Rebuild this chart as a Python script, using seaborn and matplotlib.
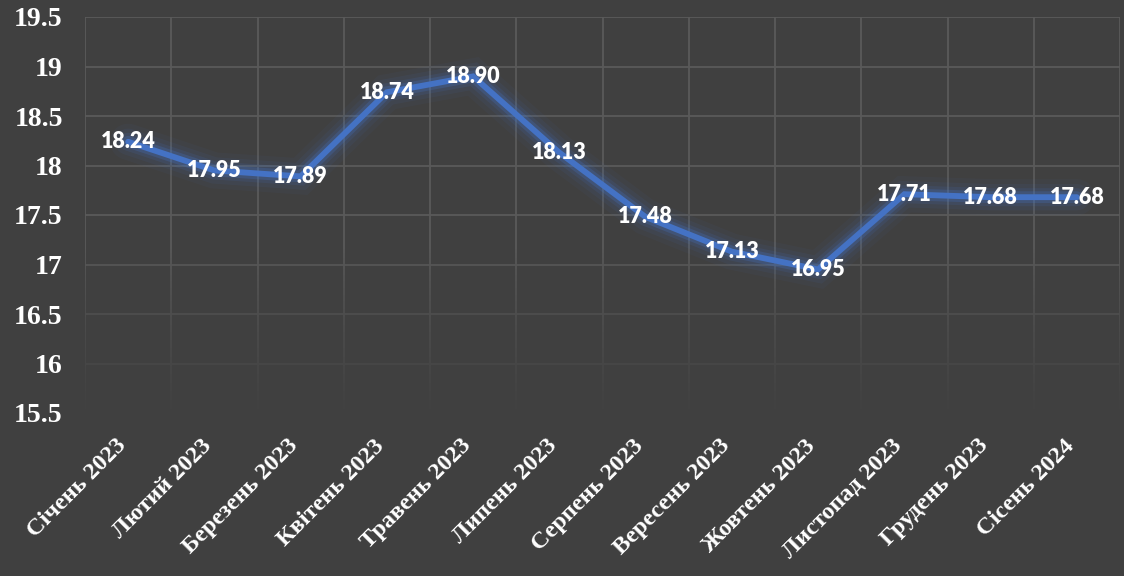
import numpy as np
import pandas as pd
import matplotlib
matplotlib.use("Agg")
import matplotlib.pyplot as plt
import matplotlib.patheffects as pe
import matplotlib.transforms as mtrans
from matplotlib.colors import LinearSegmentedColormap
import seaborn as sns

months = ["Січень 2023", "Лютий 2023", "Березень 2023", "Квітень 2023",
          "Травень 2023", "Липень 2023", "Серпень 2023", "Вересень 2023",
          "Жовтень 2023", "Листопад 2023", "Грудень 2023", "Сісень 2024"]
values = [18.24, 17.95, 17.89, 18.74, 18.90, 18.13, 17.48, 17.13, 16.95, 17.71, 17.68, 17.68]
y_ticks = [15.5, 16, 16.5, 17, 17.5, 18, 18.5, 19, 19.5]
y_tick_labels = ["15.5", "16", "16.5", "17", "17.5", "18", "18.5", "19", "19.5"]

BG = "#404040"
GRID = "#5a5a5a"
LINE = "#4472C4"

sns.set_style("dark")
plt.rcParams['font.family'] = ['Liberation Serif', 'DejaVu Serif']

df = pd.DataFrame({"month": months, "value": values, "x": np.arange(len(months))})

fig = plt.figure(figsize=(11.24, 5.76), dpi=100, facecolor=BG)
ax = fig.add_axes([85/1124, 1 - 413/576, (1120 - 85)/1124, (413 - 17)/576])
ax.set_facecolor(BG)

glow = [pe.Stroke(linewidth=26, foreground=LINE, alpha=0.05),
        pe.Stroke(linewidth=19, foreground=LINE, alpha=0.08),
        pe.Stroke(linewidth=13, foreground=LINE, alpha=0.13),
        pe.Stroke(linewidth=8.5, foreground=LINE, alpha=0.25),
        pe.Normal()]
sns.lineplot(data=df, x="x", y="value", ax=ax, color=LINE, linewidth=4.2,
             solid_joinstyle="miter", zorder=5, path_effects=glow)

for xi, v in zip(df["x"], df["value"]):
    ax.text(xi, v, f"{v:.2f}", ha="center", va="center", color="white",
            fontsize=15.5, fontweight="heavy", family=["Lato", "DejaVu Sans"], zorder=6)

ax.set_xlim(-0.5, len(months) - 0.5)
ax.set_ylim(15.5, 19.5)
ax.set_yticks(y_ticks)
ax.set_yticklabels(y_tick_labels)
ax.set_xticks(np.arange(len(months)))
ax.set_xticklabels(months, rotation=45, ha="right", va="top", rotation_mode="anchor")
ax.set_xticks(np.arange(len(months) + 1) - 0.5, minor=True)
ax.tick_params(axis="y", labelsize=20, colors="white", length=0, pad=16)
ax.tick_params(axis="x", which="major", labelsize=17.5, colors="white", length=0, pad=16)
ax.tick_params(axis="x", which="minor", length=0)
shift = mtrans.ScaledTranslation(-0.13, 0, fig.dpi_scale_trans)
for lab in ax.get_xticklabels():
    lab.set_transform(lab.get_transform() + shift)
for lab in ax.get_xticklabels() + ax.get_yticklabels():
    lab.set_fontweight("bold")
    lab.set_family(["Liberation Serif", "DejaVu Serif"])
    lab.set_color("white")

ax.grid(False)
ax.grid(True, axis="y", which="major", color=GRID, linewidth=1.3, zorder=1)
ax.grid(True, axis="x", which="minor", color=GRID, linewidth=1.3, zorder=1)
ax.set_axisbelow(True)
for s in ax.spines.values():
    s.set_visible(False)
ax.set_xlabel("")
ax.set_ylabel("")

# fade the grid toward the bottom
grad = np.linspace(1, 0, 256).reshape(-1, 1) ** 0.8
cmap = LinearSegmentedColormap.from_list("fade", [(0.251, 0.251, 0.251, 0.0), (0.251, 0.251, 0.251, 1.0)])
ax.imshow(grad, cmap=cmap, aspect="auto", extent=(-0.5, len(months) - 0.5, 15.45, 17.15),
          origin="lower", zorder=2, vmin=0, vmax=1, interpolation="bilinear")
ax.set_xlim(-0.5, len(months) - 0.5)
ax.set_ylim(15.5, 19.5)

fig.savefig("out.png", dpi=100, facecolor=BG)
